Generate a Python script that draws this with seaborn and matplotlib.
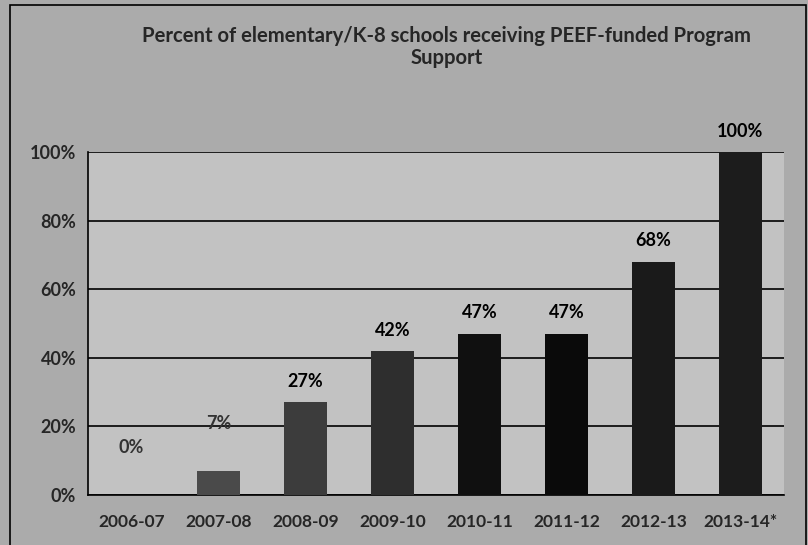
import matplotlib
matplotlib.use("Agg")
import matplotlib.pyplot as plt
import seaborn as sns
import pandas as pd
from matplotlib.patches import Rectangle
from matplotlib.ticker import FixedLocator

# data
years = ["2006-07", "2007-08", "2008-09", "2009-10", "2010-11", "2011-12", "2012-13", "2013-14*"]
pct = [0, 7, 27, 42, 47, 47, 68, 100]
bar_colors = ["#4a4a4a", "#4a4a4a", "#3c3c3c", "#2e2e2e", "#101010", "#0a0a0a", "#1a1a1a", "#1c1c1c"]

df = pd.DataFrame({"year": years, "pct": pct})

sns.set_style("white")
plt.rcParams["font.family"] = ["Lato", "DejaVu Sans"]

fig = plt.figure(figsize=(8.08, 5.45), dpi=100)
fig.patch.set_facecolor("#ababab")
ax = fig.add_axes([0.109, 0.092, 0.861, 0.629])
ax.set_facecolor("#c2c2c2")

sns.barplot(data=df, x="year", y="pct", hue="year", palette=bar_colors,
            legend=False, width=0.5, ax=ax, zorder=3, linewidth=0, edgecolor="none")

ax.set_ylim(0, 100)
ax.set_xlim(-0.5, len(years) - 0.5)
ax.set_yticks([0, 20, 40, 60, 80, 100])
ax.set_yticklabels([f"{v}%" for v in [0, 20, 40, 60, 80, 100]],
                   fontsize=13, fontweight="bold")
ax.set_xticks(range(len(years)))
ax.set_xticklabels(years, fontsize=12.5, fontweight="bold")
ax.tick_params(axis="x", length=0, pad=14)
ax.tick_params(axis="y", length=5, width=1, direction="out", color="black")
ax.xaxis.set_minor_locator(FixedLocator([i - 0.5 for i in range(len(years) + 1)]))
ax.tick_params(axis="x", which="minor", length=5, width=1, direction="out", color="black")
ax.set_xlabel("")
ax.set_ylabel("")

ax.yaxis.grid(True, color="black", linewidth=1.2, zorder=1)
ax.set_axisbelow(True)
for s in ["top", "right"]:
    ax.spines[s].set_visible(False)
for s in ["left", "bottom"]:
    ax.spines[s].set_color("black")
    ax.spines[s].set_linewidth(1.2)

# value labels
for i, v in enumerate(pct):
    off = 34 if v < 10 else 15
    ax.annotate(f"{v}%", (i, v), xytext=(0, off), textcoords="offset points",
                ha="center", va="center", fontsize=13, fontweight="bold",
                color="#333333" if v < 10 else "black")

fig.text(0.553, 0.934, "Percent of elementary/K-8 schools receiving PEEF-funded Program",
         ha="center", va="center", fontsize=14.6, fontweight="bold")
fig.text(0.553, 0.893, "Support", ha="center", va="center", fontsize=14.6, fontweight="bold")

# outer frame of the scanned chart
fig.patches.append(Rectangle((0.012, -0.01), 0.986, 1.0, transform=fig.transFigure,
                             fill=False, edgecolor="black", linewidth=1.2))

fig.savefig("out.png", dpi=100, facecolor=fig.get_facecolor())
